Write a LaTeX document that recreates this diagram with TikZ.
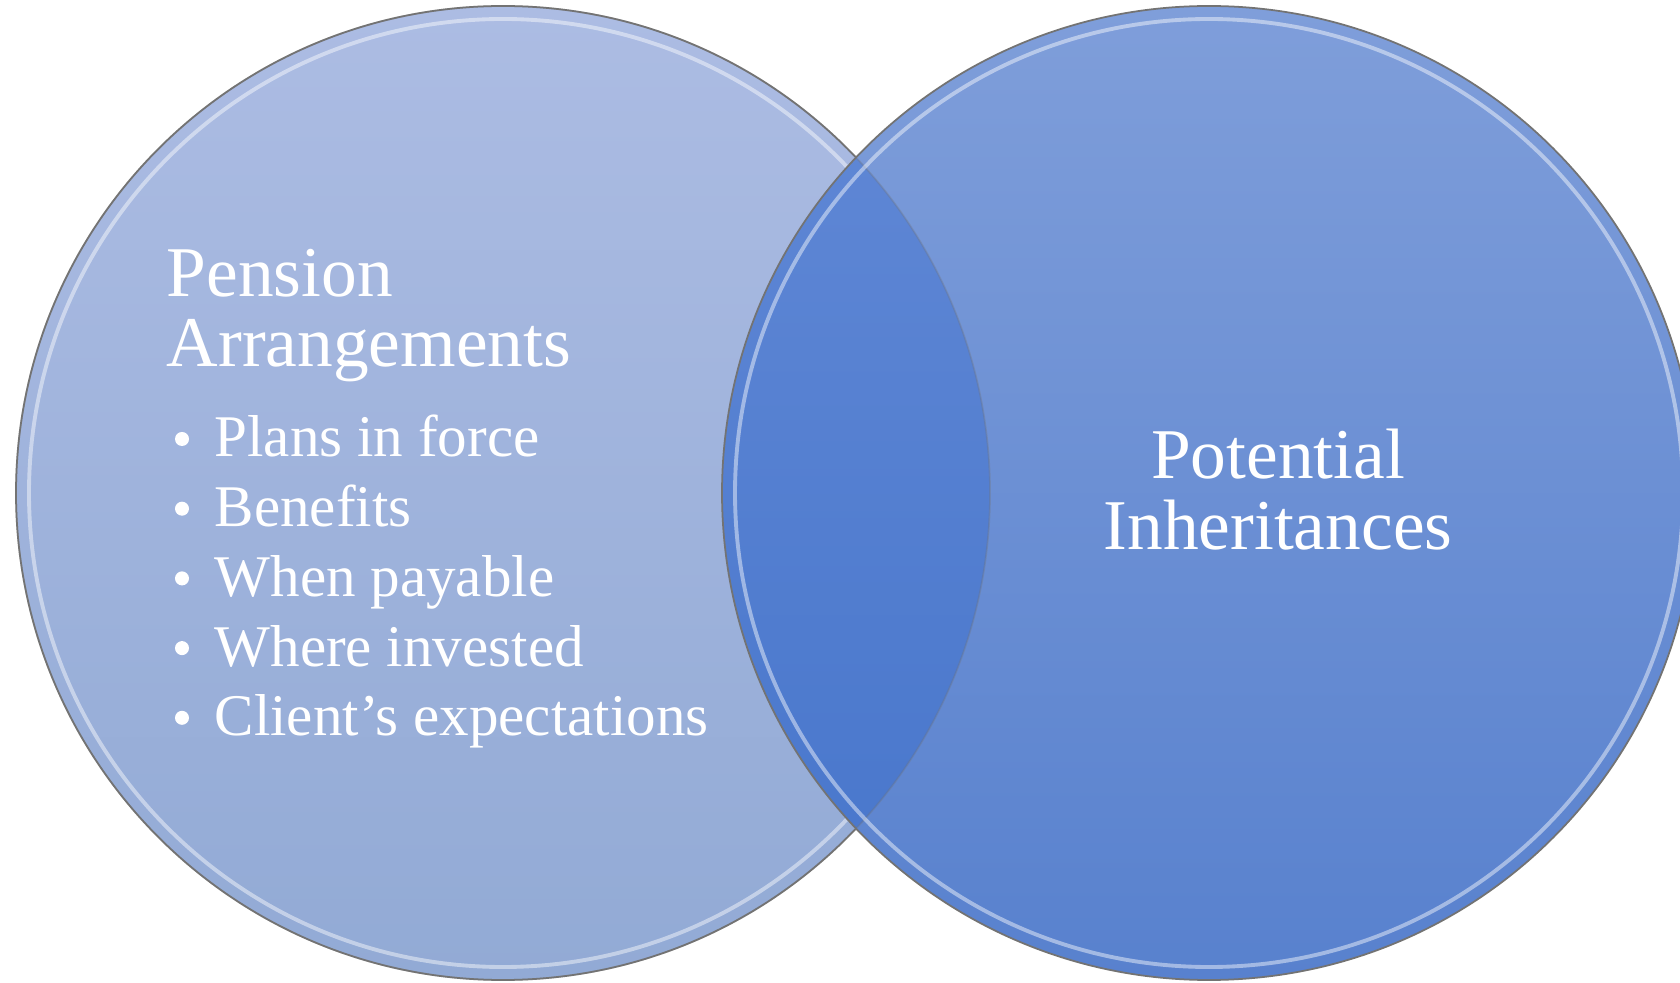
\documentclass[tikz,border=0pt]{standalone}
\usepackage{fontspec}
\setmainfont{Liberation Serif}
\definecolor{lefttop}{RGB}{172,188,227}
\definecolor{leftbot}{RGB}{146,170,213}
\definecolor{righttop}{RGB}{127,158,218}
\definecolor{rightbot}{RGB}{88,129,206}
\definecolor{midtop}{RGB}{98,137,214}
\definecolor{midbot}{RGB}{70,117,203}
\tikzset{rim/.style={draw=black!55,line width=0.5pt}}
\tikzset{glow/.style={draw=white,opacity=0.45,line width=1.1pt}}
\tikzset{head/.style={text=white,inner sep=0pt,font=\fontsize{20.3}{20}\selectfont}}
\tikzset{item/.style={text=white,inner sep=0pt,anchor=base west,font=\fontsize{16.8}{20}\selectfont}}
\tikzset{dot/.style={circle,fill=white,inner sep=0pt,minimum size=0.14cm}}

\begin{document}
\begin{tikzpicture}[x=0.01cm,y=-0.01cm]
  \useasboundingbox (0,0) rectangle (1680,983);
  \coordinate (L) at (503,493);
  \coordinate (R) at (1209,493);
  % left circle
  \shade[top color=lefttop,bottom color=leftbot] (L) circle (487);
  \draw[rim] (L) circle (487);
  \draw[glow] (L) circle (474);
  % right circle and overlap
  \shade[top color=righttop,bottom color=rightbot] (R) circle (487);
  \begin{scope}
    \clip (L) circle (487);
    \shade[top color=midtop,bottom color=midbot] (R) circle (487);
  \end{scope}
  \draw[rim,opacity=0.3] (L) circle (487);
  \draw[rim] (R) circle (487);
  \draw[glow] (R) circle (474);
  % texts
  \node[head,anchor=base west] (pen) at (166,297) {Pension};
  \node[head,anchor=base west] (arr) at (166,367) {Arrangements};
  \foreach \i/\t in {1/Plans in force,2/Benefits,3/When payable,4/Where invested,5/Client’s expectations}{
    \node[item] (it\i) at (214,{457+(\i-1)*69.7}) {\t};
    \node[dot] (dot\i) at (182,{439+(\i-1)*69.7}) {};
  }
  \node[head,anchor=base] (pot) at (1278,479) {Potential};
  \node[head,anchor=base] (inh) at (1278,550) {Inheritances};
\end{tikzpicture}
\end{document}
